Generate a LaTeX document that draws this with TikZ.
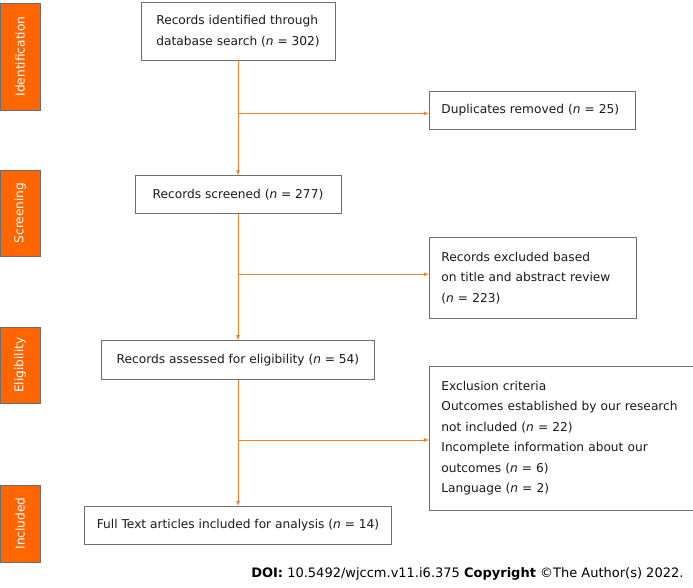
\documentclass[tikz,border=0pt]{standalone}
\usepackage{fontspec}
\setmainfont{DejaVu Sans}
\usepackage{tikz}
\usetikzlibrary{arrows.meta,positioning,calc}
\definecolor{PhaseOrange}{HTML}{FF6600}
\definecolor{FlowOrange}{HTML}{F5822E}
\definecolor{BoxGray}{HTML}{6E6E6E}
\definecolor{TextDark}{HTML}{1A1A1A}

\begin{document}
\begin{tikzpicture}[
    x=1pt, y=-1pt,
    font=\fontsize{12.2}{20.5}\selectfont,
    stage/.style={rectangle, draw=BoxGray, line width=0.8pt, fill=white, text=TextDark, align=left},
    note/.style={rectangle, draw=BoxGray, line width=0.8pt, fill=white, text=TextDark, align=left, inner xsep=12pt},
    phase/.style={rectangle, draw=BoxGray, line width=0.5pt, fill=PhaseOrange, text=white, rotate=90, minimum height=40pt},
    flow/.style={-{Latex[length=5pt,width=4pt]}, line width=0.8pt, draw=FlowOrange}
]
\useasboundingbox (0,0) rectangle (693,587);

% phase labels on the left
\node[phase, minimum width=107pt] (lid) at (20,56.5) {Identification};
\node[phase, minimum width=86pt] (lscr) at (20,213) {Screening};
\node[phase, minimum width=76pt] (lelig) at (20,365) {Eligibility};
\node[phase, minimum width=77pt] (lincl) at (20,523.5) {Included};

% main column
\node[stage, minimum width=194pt, minimum height=58pt] (ident) at (238,31) {Records identified through\\database search (\textit{n} = 302)};
\node[stage, minimum width=206pt, minimum height=38pt, below=115pt of ident] (screen) {Records screened (\textit{n} = 277)};
\node[stage, minimum width=273pt, minimum height=39pt, below=126pt of screen] (elig) {Records assessed for eligibility (\textit{n} = 54)};
\node[stage, minimum width=307pt, minimum height=38pt, below=126pt of elig] (incl) {Full Text articles included for analysis (\textit{n} = 14)};

% branch points
\coordinate (b1) at ($(ident.south)+(0,53)$);
\coordinate (b2) at ($(screen.south)+(0,60)$);
\coordinate (b3) at ($(elig.south)+(0,60)$);

% side boxes
\node[note, text width=182pt, minimum height=38pt, right=191pt of b1, yshift=3pt] (dup) {Duplicates removed (\textit{n} = 25)};
\node[note, text width=183pt, minimum height=81pt, right=191pt of b2, yshift=-3.5pt] (excl) {Records excluded based\\on title and abstract review\\(\textit{n} = 223)};
\node[note, text width=240pt, minimum height=144pt, right=191pt of b3, yshift=2pt] (crit) {Exclusion criteria\\Outcomes established by our research\\not included (\textit{n} = 22)\\Incomplete information about our\\outcomes (\textit{n} = 6)\\Language (\textit{n} = 2)};

\node[anchor=east, font=\fontsize{13}{15}\selectfont] (doi) at (687,574) {\textbf{DOI:} 10.5492/wjccm.v11.i6.375 \textbf{Copyright} \textcopyright The Author(s) 2022.};

\draw[flow] (ident) -- (screen);
\draw[flow] (screen) -- (elig);
\draw[flow] (elig) -- (incl);
\draw[flow] (b1) -- (b1 -| dup.west);
\draw[flow] (b2) -- (b2 -| excl.west);
\draw[flow] (b3) -- (b3 -| crit.west);
\end{tikzpicture}
\end{document}
